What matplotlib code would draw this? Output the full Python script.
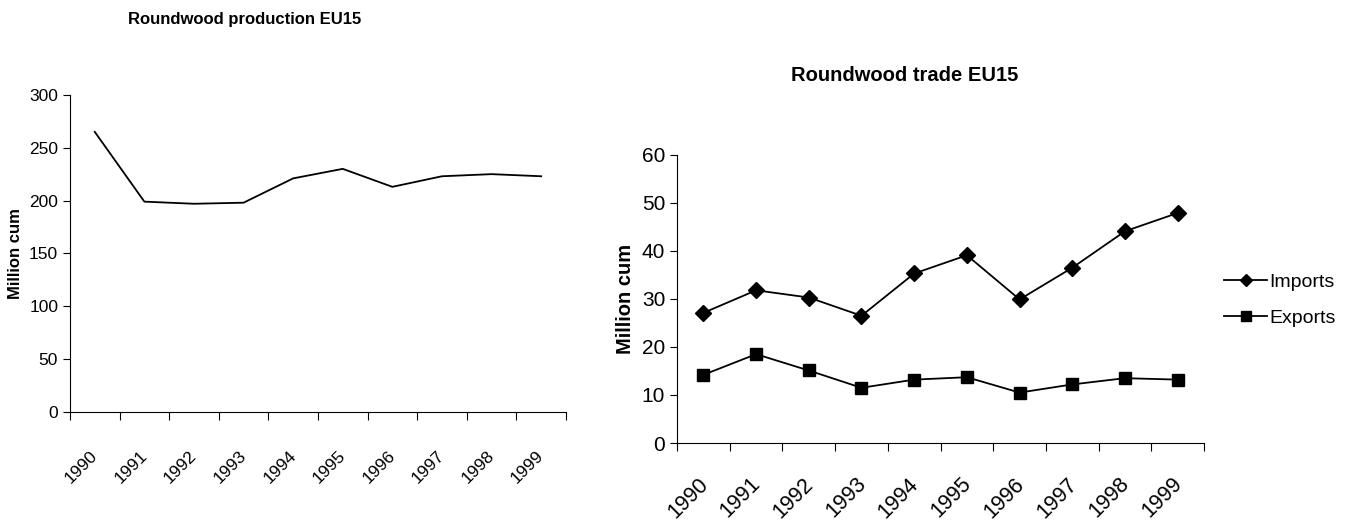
import matplotlib
matplotlib.use("Agg")
import matplotlib.pyplot as plt
import matplotlib.transforms as mtransforms
import numpy as np

plt.rcParams["font.family"] = ["Liberation Sans", "DejaVu Sans"]

# data
years = ["1990", "1991", "1992", "1993", "1994", "1995", "1996", "1997", "1998", "1999"]
production = [265, 199, 197, 198, 221, 230, 213, 223, 225, 223]
imports = [27.1, 31.8, 30.3, 26.5, 35.3, 39.1, 29.9, 36.5, 44.1, 47.9]
exports = [14.2, 18.5, 15.1, 11.5, 13.2, 13.7, 10.5, 12.2, 13.5, 13.2]

x = np.arange(len(years))

fig = plt.figure(figsize=(13.53, 5.21), dpi=100)


def style_axis(ax, xtick_fs, ytick_fs, label_pad, shift):
    for s in ["top", "right"]:
        ax.spines[s].set_visible(False)
    ax.spines["left"].set_linewidth(0.8)
    ax.spines["bottom"].set_linewidth(0.8)
    ax.set_xlim(-0.5, len(years) - 0.5)
    ax.set_xticks(np.arange(-0.5, len(years), 1.0))
    ax.set_xticklabels([])
    ax.set_xticks(x, minor=True)
    ax.set_xticklabels(years, minor=True, rotation=45, ha="right",
                       rotation_mode="anchor", fontsize=xtick_fs)
    ax.tick_params(axis="x", which="major", direction="out", length=6, width=0.8)
    ax.tick_params(axis="x", which="minor", length=0, pad=label_pad)
    ax.tick_params(axis="y", direction="out", length=5, width=0.8, labelsize=ytick_fs)
    off = mtransforms.ScaledTranslation(shift / 100, 0, fig.dpi_scale_trans)
    for lab in ax.get_xticklabels(minor=True):
        lab.set_transform(lab.get_transform() + off)


# ==========================
# Left : production
# ==========================
ax1 = fig.add_axes([0.0517, 0.209, 0.3666, 0.609])
ax1.plot(x, production, color="black", linewidth=1.3)
ax1.set_ylim(0, 300)
ax1.set_yticks(range(0, 301, 50))
style_axis(ax1, 12.5, 12.5, 26, -5)
ax1.set_ylabel("Million cum", fontsize=12, fontweight="bold", labelpad=4)
fig.text(0.181, 0.963, "Roundwood production EU15", ha="center", va="center",
         fontsize=12, fontweight="bold")

# ==========================
# Right : trade
# ==========================
ax2 = fig.add_axes([0.5004, 0.1497, 0.3895, 0.553])
ax2.plot(x, imports, color="black", linewidth=1.3, marker="D", markersize=8, label="Imports")
ax2.plot(x, exports, color="black", linewidth=1.3, marker="s", markersize=9, label="Exports")
ax2.set_ylim(0, 60)
ax2.set_yticks(range(0, 61, 10))
style_axis(ax2, 15.5, 15, 22, -6)
ax2.set_ylabel("Million cum", fontsize=14.5, fontweight="bold", labelpad=5)
fig.text(0.669, 0.855, "Roundwood trade EU15", ha="center", va="center",
         fontsize=14.5, fontweight="bold")

fig.legend(loc="center left", bbox_to_anchor=(0.892, 0.424), frameon=False,
           fontsize=14, handlelength=2.2, handletextpad=0.1, labelspacing=0.95,
           markerscale=0.8)

fig.savefig("out.png", dpi=100)
plt.close()
